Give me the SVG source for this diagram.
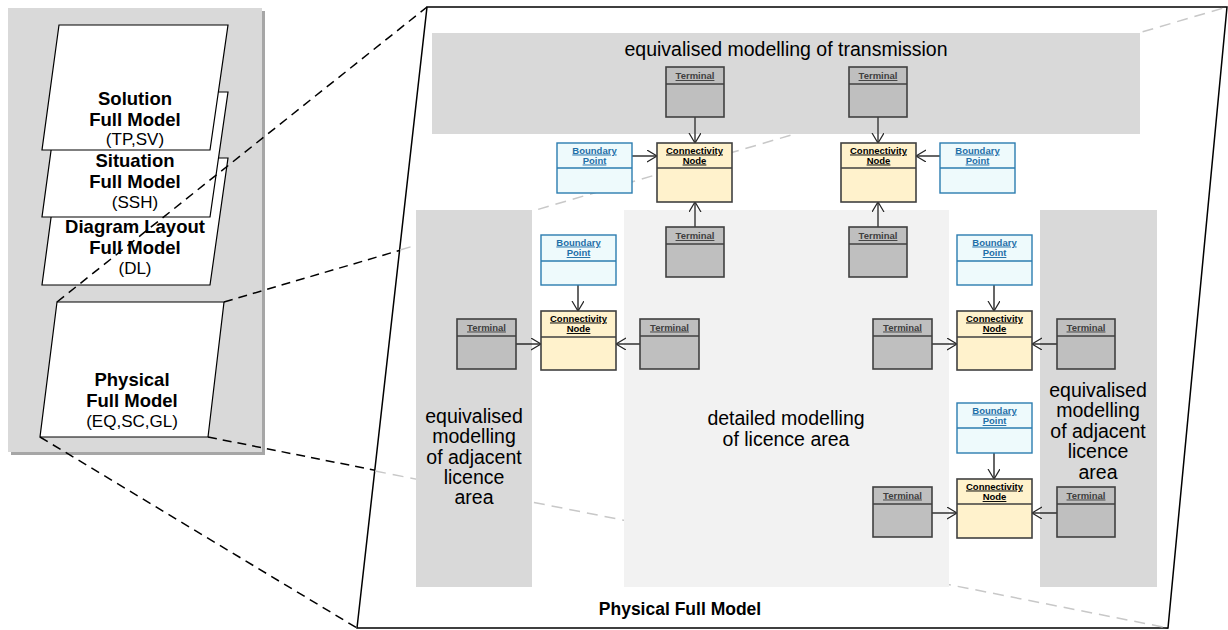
<svg xmlns="http://www.w3.org/2000/svg" width="1228" height="630" viewBox="0 0 1228 630">
<defs>
<marker id="ah" markerUnits="userSpaceOnUse" markerWidth="14" markerHeight="14" refX="10" refY="6" orient="auto">
<path d="M0,0 L10,6 L0,12" fill="none" stroke="#262626" stroke-width="1.2"/>
</marker>
</defs>
<style>
text{font-family:"Liberation Sans",Arial,sans-serif;}
.pg{fill:#fff;stroke:#000;stroke-width:1.2;}
.big{font-size:18.5px;font-weight:bold;text-anchor:middle;fill:#000;}
.sub{font-size:17px;text-anchor:middle;fill:#000;}
.lbl{font-size:19.5px;text-anchor:middle;fill:#000;}
.dk{fill:none;stroke:#000;stroke-width:1.5;stroke-dasharray:9 6;}
.lg{fill:none;stroke:#c8c8c8;stroke-width:1.5;stroke-dasharray:11 7;}
.term{fill:#bfbfbf;stroke:#404040;stroke-width:1.6;}
.cn{fill:#fff2cc;stroke:#404040;stroke-width:1.6;}
.bp{fill:#eefafc;stroke:#2b7cb0;stroke-width:1.4;}
.hl{stroke:#404040;stroke-width:1.6;}
.hb{stroke:#2b7cb0;stroke-width:1.4;}
.tt{font-size:9.5px;font-weight:bold;text-anchor:middle;fill:#404040;text-decoration:underline;}
.ct{font-size:9.5px;font-weight:bold;text-anchor:middle;fill:#000;text-decoration:underline;}
.bt{font-size:9.5px;font-weight:bold;text-anchor:middle;fill:#1f6fa8;text-decoration:underline;}
.c1{stroke:#404040;stroke-width:1.5;fill:none;marker-end:url(#ah);}
.c2{stroke:#000;stroke-width:1.2;fill:none;marker-end:url(#ah);}
</style>

<!-- left panel -->
<g id="panel">
<rect x="11" y="11" width="254" height="444" fill="#a6a6a6"/>
<rect x="8" y="8" width="254" height="444" fill="#d9d9d9"/>
</g>
<g id="dl">
<polygon class="pg" points="59,158 228,158 210,285 42,285"/>
<text class="big" x="135" y="233">Diagram Layout</text>
<text class="big" x="135" y="254">Full Model</text>
<text class="sub" x="135" y="274">(DL)</text>
</g>
<g id="situation">
<polygon class="pg" points="59,92 228,92 210,217 42,217"/>
<text class="big" x="135" y="167">Situation</text>
<text class="big" x="135" y="188">Full Model</text>
<text class="sub" x="135" y="208">(SSH)</text>
</g>
<g id="solution">
<polygon class="pg" points="59,25 228,25 210,150 42,150"/>
<text class="big" x="135" y="105">Solution</text>
<text class="big" x="135" y="126">Full Model</text>
<text class="sub" x="135" y="145">(TP,SV)</text>
</g>
<g id="physical">
<polygon class="pg" points="57,302 224,302 208,437 40,437"/>
<text class="big" x="132" y="386">Physical</text>
<text class="big" x="132" y="407">Full Model</text>
<text class="sub" x="132" y="427">(EQ,SC,GL)</text>
</g>

<!-- projection lines -->
<g id="projection">
<line class="dk" x1="57" y1="302" x2="427" y2="7"/>
<line class="dk" x1="224" y1="302" x2="1227" y2="7"/>
<line class="dk" x1="40" y1="437" x2="357" y2="628"/>
<line class="dk" x1="208" y1="437" x2="1168" y2="628"/>
</g>

<!-- big zoomed model -->
<g id="physical-zoom">
<polygon points="427,7 1227,7 1168,628 357,628" fill="#fff" stroke="#000" stroke-width="1.5"/>
<line class="lg" x1="400" y1="250" x2="1227" y2="7"/>
<line class="lg" x1="375" y1="471" x2="1168" y2="628"/>
<text x="680" y="615" font-size="17.5" font-weight="bold" text-anchor="middle">Physical Full Model</text>
</g>

<g id="transmission">
<rect x="432" y="33" width="708" height="101" fill="#d9d9d9"/>
<text class="lbl" x="786" y="56">equivalised modelling of transmission</text>
</g>
<g id="adjacent-left">
<rect x="416" y="210" width="116" height="377" fill="#d9d9d9"/>
<text class="lbl" x="474" y="423">equivalised</text>
<text class="lbl" x="474" y="443">modelling</text>
<text class="lbl" x="474" y="464">of adjacent</text>
<text class="lbl" x="474" y="484">licence</text>
<text class="lbl" x="474" y="504">area</text>
</g>
<g id="licence-area">
<rect x="624" y="210" width="325" height="377" fill="#f2f2f2"/>
<text class="lbl" x="786" y="425">detailed modelling</text>
<text class="lbl" x="786" y="446">of licence area</text>
</g>
<g id="adjacent-right">
<rect x="1040" y="210" width="117" height="377" fill="#d9d9d9"/>
<text class="lbl" x="1098" y="397">equivalised</text>
<text class="lbl" x="1098" y="417">modelling</text>
<text class="lbl" x="1098" y="438">of adjacent</text>
<text class="lbl" x="1098" y="458">licence</text>
<text class="lbl" x="1098" y="479">area</text>
</g>

<!-- connectors -->
<g id="connectors">
<line class="c1" x1="695" y1="117" x2="695" y2="143"/>
<line class="c1" x1="695" y1="227" x2="695" y2="202"/>
<line class="c2" x1="632" y1="156" x2="657" y2="156"/>
<line class="c1" x1="878" y1="117" x2="878" y2="143"/>
<line class="c1" x1="878" y1="227" x2="878" y2="202"/>
<line class="c2" x1="940" y1="156" x2="916" y2="156"/>
<line class="c2" x1="578" y1="285" x2="578" y2="311"/>
<line class="c2" x1="516" y1="344" x2="541" y2="344"/>
<line class="c2" x1="640" y1="344" x2="616" y2="344"/>
<line class="c2" x1="994" y1="285" x2="994" y2="311"/>
<line class="c2" x1="932" y1="344" x2="957" y2="344"/>
<line class="c2" x1="1057" y1="344" x2="1032" y2="344"/>
<line class="c2" x1="994" y1="453" x2="994" y2="479"/>
<line class="c2" x1="932" y1="513" x2="957" y2="513"/>
<line class="c2" x1="1057" y1="513" x2="1032" y2="513"/>
</g>

<!-- top transmission terminals -->
<g id="term-t1"><rect class="term" x="666" y="67" width="58" height="50"/><line class="hl" x1="666" y1="84" x2="724" y2="84"/><text class="tt" x="695" y="79">Terminal</text></g>
<g id="term-t2"><rect class="term" x="849" y="67" width="58" height="50"/><line class="hl" x1="849" y1="84" x2="907" y2="84"/><text class="tt" x="878" y="79">Terminal</text></g>

<g id="cn-1"><rect class="cn" x="657" y="143" width="75" height="59"/><line class="hl" x1="657" y1="168" x2="732" y2="168"/><text class="ct" x="694.5" y="153.5">Connectivity</text><text class="ct" x="694.5" y="163.5">Node</text></g>
<g id="cn-2"><rect class="cn" x="841" y="143" width="75" height="59"/><line class="hl" x1="841" y1="168" x2="916" y2="168"/><text class="ct" x="878.5" y="153.5">Connectivity</text><text class="ct" x="878.5" y="163.5">Node</text></g>

<g id="bp-1"><rect class="bp" x="557" y="143" width="75" height="50"/><line class="hb" x1="557" y1="168" x2="632" y2="168"/><text class="bt" x="594.5" y="153.5">Boundary</text><text class="bt" x="594.5" y="163.5">Point</text></g>
<g id="bp-2"><rect class="bp" x="940" y="143" width="75" height="50"/><line class="hb" x1="940" y1="168" x2="1015" y2="168"/><text class="bt" x="977.5" y="153.5">Boundary</text><text class="bt" x="977.5" y="163.5">Point</text></g>

<g id="term-b1"><rect class="term" x="666" y="227" width="58" height="50"/><line class="hl" x1="666" y1="244" x2="724" y2="244"/><text class="tt" x="695" y="239">Terminal</text></g>
<g id="term-b2"><rect class="term" x="849" y="227" width="58" height="50"/><line class="hl" x1="849" y1="244" x2="907" y2="244"/><text class="tt" x="878" y="239">Terminal</text></g>

<!-- left group -->
<g id="bp-3"><rect class="bp" x="541" y="235" width="75" height="50"/><line class="hb" x1="541" y1="261" x2="616" y2="261"/><text class="bt" x="578.5" y="245.5">Boundary</text><text class="bt" x="578.5" y="256">Point</text></g>
<g id="cn-3"><rect class="cn" x="541" y="311" width="75" height="59"/><line class="hl" x1="541" y1="337" x2="616" y2="337"/><text class="ct" x="578.5" y="321.5">Connectivity</text><text class="ct" x="578.5" y="332">Node</text></g>
<g id="term-l1"><rect class="term" x="457" y="319" width="59" height="50"/><line class="hl" x1="457" y1="336" x2="516" y2="336"/><text class="tt" x="486.5" y="330.5">Terminal</text></g>
<g id="term-l2"><rect class="term" x="640" y="319" width="59" height="50"/><line class="hl" x1="640" y1="336" x2="699" y2="336"/><text class="tt" x="669.5" y="330.5">Terminal</text></g>

<!-- right group -->
<g id="bp-4"><rect class="bp" x="957" y="235" width="75" height="50"/><line class="hb" x1="957" y1="261" x2="1032" y2="261"/><text class="bt" x="994.5" y="245.5">Boundary</text><text class="bt" x="994.5" y="256">Point</text></g>
<g id="cn-4"><rect class="cn" x="957" y="311" width="75" height="59"/><line class="hl" x1="957" y1="337" x2="1032" y2="337"/><text class="ct" x="994.5" y="321.5">Connectivity</text><text class="ct" x="994.5" y="332">Node</text></g>
<g id="term-r1"><rect class="term" x="873" y="319" width="59" height="50"/><line class="hl" x1="873" y1="336" x2="932" y2="336"/><text class="tt" x="902.5" y="330.5">Terminal</text></g>
<g id="term-r2"><rect class="term" x="1057" y="319" width="58" height="50"/><line class="hl" x1="1057" y1="336" x2="1115" y2="336"/><text class="tt" x="1086" y="330.5">Terminal</text></g>

<!-- bottom right group -->
<g id="bp-5"><rect class="bp" x="957" y="403" width="75" height="50"/><line class="hb" x1="957" y1="428" x2="1032" y2="428"/><text class="bt" x="994.5" y="413.5">Boundary</text><text class="bt" x="994.5" y="424">Point</text></g>
<g id="cn-5"><rect class="cn" x="957" y="479" width="75" height="59"/><line class="hl" x1="957" y1="504" x2="1032" y2="504"/><text class="ct" x="994.5" y="489.5">Connectivity</text><text class="ct" x="994.5" y="500">Node</text></g>
<g id="term-r3"><rect class="term" x="873" y="487" width="59" height="50"/><line class="hl" x1="873" y1="504" x2="932" y2="504"/><text class="tt" x="902.5" y="498.5">Terminal</text></g>
<g id="term-r4"><rect class="term" x="1057" y="487" width="58" height="50"/><line class="hl" x1="1057" y1="504" x2="1115" y2="504"/><text class="tt" x="1086" y="498.5">Terminal</text></g>
</svg>
